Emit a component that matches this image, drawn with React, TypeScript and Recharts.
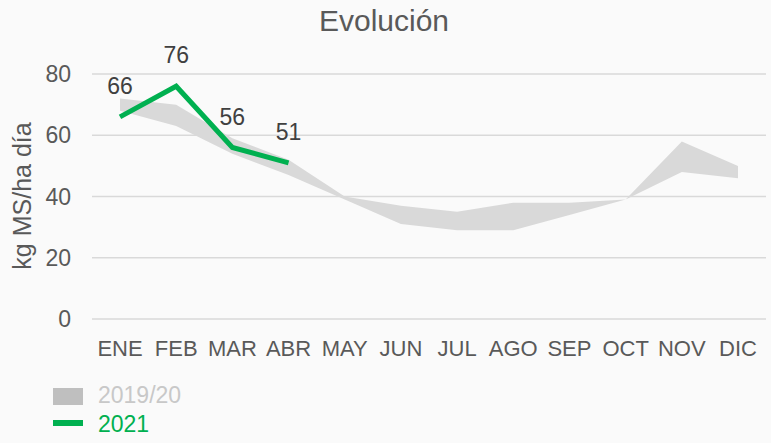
import { ComposedChart, Area, Line, XAxis, YAxis, CartesianGrid, LabelList } from 'recharts';

const months = ['ENE', 'FEB', 'MAR', 'ABR', 'MAY', 'JUN', 'JUL', 'AGO', 'SEP', 'OCT', 'NOV', 'DIC'];
const rangeLow = [68, 63, 54, 47, 39, 31, 29, 29, 34, 39, 48, 46];
const rangeHigh = [72, 70, 59, 52, 40, 37, 35, 38, 38, 39, 58, 50];
const values2021: (number | null)[] = [66, 76, 56, 51, null, null, null, null, null, null, null, null];
const yTicks = [0, 20, 40, 60, 80];

const data = months.map((m, i) => ({
  month: m,
  rango: [rangeLow[i], rangeHigh[i]],
  actual: values2021[i],
}));

const FONT = '"Liberation Sans", Arial, sans-serif';

export default function App() {
  return (
    <div style={{ position: 'absolute', left: 0, top: 0, width: 771, height: 443, background: '#fafafa', fontFamily: FONT, overflow: 'hidden' }}>
      <div style={{ position: 'absolute', left: 0, width: 768, top: 3, textAlign: 'center', fontSize: 30, color: '#595959', lineHeight: '36px' }}>
        Evolución
      </div>
      <div style={{
        position: 'absolute', left: 22, top: 196, width: 240, marginLeft: -120, marginTop: -15,
        textAlign: 'center', fontSize: 25, color: '#595959', transform: 'rotate(-90deg)', lineHeight: '30px',
      }}>
        kg MS/ha día
      </div>
      <ComposedChart width={771} height={443} data={data} margin={{ top: 74, right: 5, bottom: 94, left: 42 }}>
        <CartesianGrid vertical={false} stroke="#d9d9d9" strokeWidth={1.5} />
        <XAxis dataKey="month" axisLine={false} tickLine={false} tickMargin={15} height={30} interval={0}
          padding={{ left: 28, right: 28 }}
          tick={{ fill: '#595959', fontSize: 22, fontFamily: FONT }} />
        <YAxis domain={[0, 80]} ticks={yTicks} width={50} axisLine={false} tickLine={false} tickMargin={15}
          tick={{ fill: '#595959', fontSize: 23, fontFamily: FONT }} />
        <Area dataKey="rango" fill="#d9d9d9" fillOpacity={1} stroke="none" isAnimationActive={false} />
        <Line dataKey="actual" stroke="#00b050" strokeWidth={5} dot={false} isAnimationActive={false} connectNulls={false}>
          <LabelList dataKey="actual" position="top" offset={23} fill="#404040" fontSize={23} fontFamily={FONT} />
        </Line>
      </ComposedChart>
      <div style={{ position: 'absolute', left: 53, top: 388, width: 30, height: 17, background: '#bfbfbf' }} />
      <div style={{ position: 'absolute', left: 98, top: 383, fontSize: 23, color: '#c8c8c8', lineHeight: '24px' }}>2019/20</div>
      <div style={{ position: 'absolute', left: 53, top: 420, width: 30, height: 6, background: '#00b050' }} />
      <div style={{ position: 'absolute', left: 98, top: 412, fontSize: 23, color: '#00b050', lineHeight: '24px' }}>2021</div>
    </div>
  );
}
